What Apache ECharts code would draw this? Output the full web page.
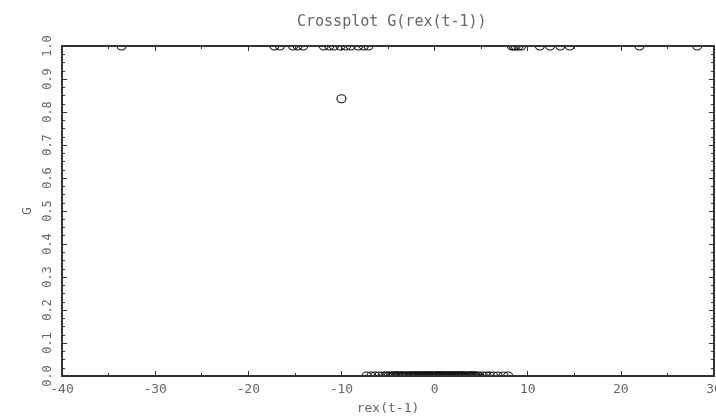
<!DOCTYPE html>
<html>
<head>
<meta charset="utf-8">
<script src="https://cdn.jsdelivr.net/npm/echarts@6/dist/echarts.min.js"></script>
<style>
  html, body { margin: 0; padding: 0; background: #fff; }
  #chart { width: 716px; height: 417px; }
</style>
</head>
<body>
<div id="chart"></div>
<script>
// rex(t-1) values where G sits at 1
const topX = [-33.6, -17.2, -16.6, -15.2, -14.7, -14.1, -11.9, -11.3, -10.8, -10.1, -9.5, -9.0, -8.2, -7.6, -7.1,
  8.3, 8.5, 8.7, 9.0, 9.3, 11.3, 12.4, 13.5, 14.5, 22.0, 28.2];
// the single point in between
const midPoint = [-10.0, 0.84];
// rex(t-1) values where G sits at 0
const bottomX = [-7.3, -6.8, -6.4, -6.0, -5.6, -5.3, -5.1,
  -4.92, -4.61, -4.38, -4.05, -3.87, -3.52, -3.31, -3.08, -2.84, -2.66, -2.41, -2.19, -1.97, -1.75,
  -1.58, -1.32, -1.14, -0.93, -0.71, -0.52, -0.36, -0.18, 0.04, 0.22, 0.41, 0.63, 0.79, 0.98, 1.21,
  1.37, 1.55, 1.78, 1.96, 2.14, 2.38, 2.57, 2.73, 2.96, 3.18, 3.34, 3.59, 3.81, 4.02, 4.27, 4.48,
  -1.2, -0.6, 0.3, 0.9, 1.6, -2.3, 2.2, -3.6, -4.2, -2.0, -0.8, 0.5, 1.1, 2.6, 3.0, 3.9,
  -4.45, -3.95, -3.42, -2.97, -2.55, -2.07, -1.66, -1.41, -1.02, -0.45, -0.27, 0.12, 0.36, 0.71,
  1.04, 1.44, 1.86, 2.05, 2.47, 2.85, 3.25, 3.71, 4.14, 4.39,
  4.8, 5.2, 5.6, 5.9, 6.3, 6.8, 7.4, 7.9];

const xTicks = [-40, 30, 10];
const yTicks = [0, 1, 0.1];

const points = [];
topX.forEach(function (x) { points.push([x, 1]); });
points.push(midPoint);
bottomX.forEach(function (x) { points.push([x, 0]); });

const ink = '#333';
const textColor = '#666';
const font = 'DejaVu Sans Mono';

const chart = echarts.init(document.getElementById('chart'), null, { renderer: 'canvas' });

function xAxisBase(pos, showLabel) {
  return {
    type: 'value',
    position: pos,
    min: xTicks[0],
    max: xTicks[1],
    interval: xTicks[2],
    z: 5,
    axisLine: { show: true, onZero: false, lineStyle: { color: ink, width: 2 } },
    axisTick: { show: true, inside: true, length: 5, lineStyle: { color: ink } },
    minorTick: { show: true, splitNumber: 2, length: 3, lineStyle: { color: ink } },
    splitLine: { show: false },
    axisLabel: { show: showLabel, color: textColor, fontFamily: font, fontSize: 13, margin: 7 }
  };
}

function yAxisBase(pos, showLabel) {
  return {
    type: 'value',
    position: pos,
    min: yTicks[0],
    max: yTicks[1],
    interval: yTicks[2],
    z: 5,
    axisLine: { show: true, onZero: false, lineStyle: { color: ink, width: 2 } },
    axisTick: { show: true, inside: true, length: 5, lineStyle: { color: ink } },
    minorTick: { show: true, splitNumber: 4, length: 3, lineStyle: { color: ink } },
    splitLine: { show: false },
    axisLabel: {
      show: showLabel, color: textColor, fontFamily: font, fontSize: 12, rotate: 90, margin: 8,
      formatter: function (v) { return v.toFixed(1); }
    }
  };
}

const xMain = xAxisBase('bottom', true);
xMain.name = 'rex(t-1)';
xMain.nameLocation = 'middle';
xMain.nameGap = 26;
xMain.nameTextStyle = { color: textColor, fontFamily: font, fontSize: 13 };

const yMain = yAxisBase('left', true);
yMain.name = 'G';
yMain.nameLocation = 'middle';
yMain.nameRotate = 90;
yMain.nameGap = 17;
yMain.nameTextStyle = { color: textColor, fontFamily: font, fontSize: 13 };

const option = {
  backgroundColor: '#fff',
  animation: false,
  title: {
    text: 'Crossplot G(rex(t-1))',
    left: 292,
    top: 10,
    textStyle: { color: textColor, fontFamily: font, fontSize: 15, fontWeight: 'normal' }
  },
  grid: { left: 62, right: 2, top: 46, bottom: 41, outerBoundsMode: 'none' },
  xAxis: [xMain, xAxisBase('top', false)],
  yAxis: [yMain, yAxisBase('right', false)],
  series: [
    {
      // custom series so the circles get cut at the frame, like the original
      type: 'custom',
      clip: true,
      z: 2,
      renderItem: function (params, api) {
        const p = api.coord([api.value(0), api.value(1)]);
        return {
          type: 'ellipse',
          shape: { cx: p[0], cy: p[1], rx: 4.5, ry: 4 },
          style: { fill: 'none', stroke: '#111', lineWidth: 1.1 }
        };
      },
      data: points
    }
  ]
};

chart.setOption(option);
</script>
</body>
</html>
